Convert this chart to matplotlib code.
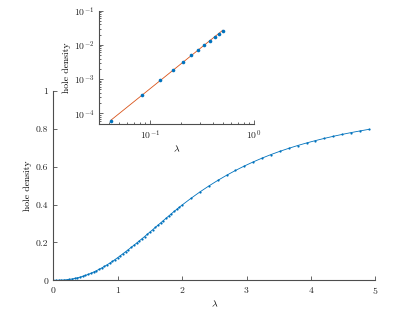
import matplotlib
matplotlib.use("Agg")
from matplotlib import pyplot as plt
import numpy as np

''' Dados lidos da figura '''
# grade fina (lambda de 0 a 2)
lam_fino = [0.000, 0.042, 0.083, 0.125, 0.167, 0.208, 0.250, 0.292, 0.333, 0.375,
            0.417, 0.458, 0.500, 0.542, 0.583, 0.625, 0.667, 0.708, 0.750, 0.792,
            0.833, 0.875, 0.917, 0.958, 1.000, 1.042, 1.083, 1.125, 1.167, 1.208,
            1.250, 1.292, 1.333, 1.375, 1.417, 1.458, 1.500, 1.542, 1.583, 1.625,
            1.667, 1.708, 1.750, 1.792, 1.833, 1.875, 1.917, 1.958]
dens_fino = [0.0, 0.00006, 0.00034, 0.00093, 0.0019, 0.00325, 0.0050, 0.0072, 0.0101, 0.0132,
             0.0169, 0.0212, 0.0259, 0.0313, 0.0372, 0.0435, 0.0502, 0.0574, 0.0650, 0.0730,
             0.0815, 0.0904, 0.0997, 0.1095, 0.1197, 0.1302, 0.1408, 0.1516, 0.1625, 0.1735,
             0.1847, 0.1960, 0.2075, 0.2191, 0.2308, 0.2427, 0.2547, 0.2668, 0.2789, 0.2910,
             0.3031, 0.3151, 0.3272, 0.3393, 0.3513, 0.3631, 0.3747, 0.3861]
# grade grossa (lambda de 2 a 4.9)
lam_grosso = [2.000, 2.138, 2.276, 2.414, 2.552, 2.690, 2.829, 2.967, 3.105, 3.243, 3.381,
              3.519, 3.657, 3.795, 3.933, 4.071, 4.210, 4.348, 4.486, 4.624, 4.762, 4.900]
dens_grosso = [0.3972, 0.4327, 0.4662, 0.4975, 0.5268, 0.5541, 0.5797, 0.6032, 0.6249, 0.6450, 0.6637,
               0.6808, 0.6966, 0.7113, 0.7248, 0.7373, 0.7490, 0.7599, 0.7700, 0.7795, 0.7883, 0.7966]

lam = np.array(lam_fino + lam_grosso)
dens = np.array(dens_fino + dens_grosso)

# pontos do detalhe log-log (lambda <= 0.5)
lam_log = lam[1:13]
dens_log = dens[1:13]

''' Estilo '''
plt.rcParams['font.family'] = 'serif'
plt.rcParams['font.serif'] = ['cmr10']
plt.rcParams['mathtext.fontset'] = 'cm'
plt.rcParams['axes.formatter.use_mathtext'] = True
plt.rcParams['font.size'] = 7
azul = '#0072BD'
laranja = '#D95319'
cinza = '#4d4d4d'


def estilo(ax):
    for lado in ['top', 'right']:
        ax.spines[lado].set_visible(False)
    for lado in ['left', 'bottom']:
        ax.spines[lado].set_color(cinza)
        ax.spines[lado].set_linewidth(0.8)
    ax.tick_params(which='both', direction='in', colors=cinza, labelcolor='#262626',
                   width=0.6, labelsize=7)
    ax.tick_params(which='major', length=3)
    ax.tick_params(which='minor', length=1.6)


fig = plt.figure(figsize=(4.15, 3.1), dpi=100)

''' Grafico principal '''
ax = fig.add_axes([0.1284, 0.0958, 0.776, 0.6113])
ax.plot(lam, dens, '-', color=azul, linewidth=0.6, marker='o', markersize=1.6,
        markeredgewidth=0)
ax.set_xlim(0, 5)
ax.set_ylim(0, 1)
ax.set_xticks([0, 1, 2, 3, 4, 5])
ax.set_yticks([0, 0.2, 0.4, 0.6, 0.8, 1])
ax.set_yticklabels(['0', '0.2', '0.4', '0.6', '0.8', '1'])
ax.set_xlabel(r'$\lambda$', labelpad=2)
ax.set_ylabel('hole density', labelpad=3)
estilo(ax)

''' Detalhe log-log '''
ax2 = fig.add_axes([0.2393, 0.60, 0.3728, 0.3655])
coef = np.polyfit(np.log10(lam_log), np.log10(dens_log), 1)
xf = np.array([lam_log[0], lam_log[-1]])
ax2.loglog(xf, 10 ** np.polyval(coef, np.log10(xf)), '-', color=laranja, linewidth=0.6)
ax2.loglog(lam_log, dens_log, 'o', color=azul, markersize=2.6, markeredgewidth=0)
ax2.set_xlim(0.0324, 1)
ax2.set_ylim(4.87e-5, 0.1)
ax2.set_yticks([1e-4, 1e-3, 1e-2, 1e-1])
ax2.set_xticks([0.1, 1])
ax2.set_xlabel(r'$\lambda$', labelpad=1)
ax2.set_ylabel('hole density', labelpad=2)
estilo(ax2)

plt.savefig('out.png', dpi=100)
